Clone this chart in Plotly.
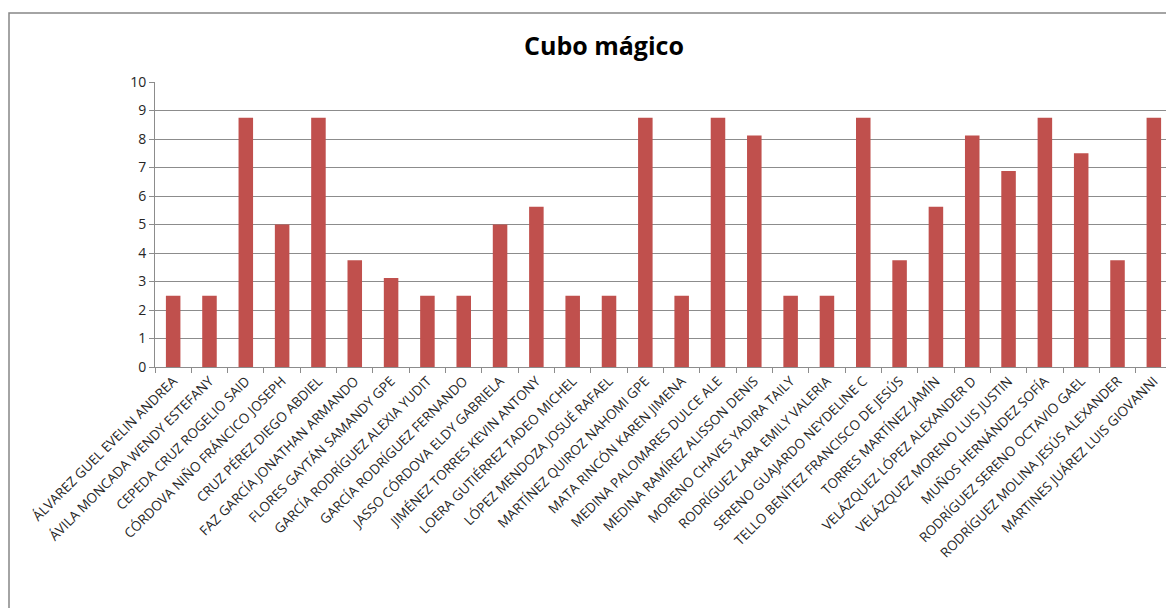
import plotly.graph_objects as go

names = [
    "ÁLVAREZ GUEL EVELIN ANDREA",
    "ÁVILA MONCADA WENDY ESTEFANY",
    "CEPEDA CRUZ ROGELIO SAID",
    "CÓRDOVA NIÑO FRÁNCICO JOSEPH",
    "CRUZ PÉREZ DIEGO ABDIEL",
    "FAZ GARCÍA JONATHAN ARMANDO",
    "FLORES GAYTÁN SAMANDY GPE",
    "GARCÍA RODRÍGUEZ ALEXIA YUDIT",
    "GARCÍA RODRÍGUEZ FERNANDO",
    "JASSO CÓRDOVA ELDY GABRIELA",
    "JIMÉNEZ TORRES KEVIN ANTONY",
    "LOERA GUTIÉRREZ TADEO MICHEL",
    "LÓPEZ MENDOZA JOSUÉ RAFAEL",
    "MARTÍNEZ QUIROZ NAHOMI GPE",
    "MATA RINCÓN KAREN JIMENA",
    "MEDINA PALOMARES DULCE ALE",
    "MEDINA RAMÍREZ ALISSON DENIS",
    "MORENO CHAVES YADIRA TAILY",
    "RODRÍGUEZ LARA EMILY VALERIA",
    "SERENO GUAJARDO NEYDELINE C",
    "TELLO BENÍTEZ FRANCISCO DE JESÚS",
    "TORRES MARTÍNEZ JAMÍN",
    "VELÁZQUEZ LÓPEZ ALEXANDER D",
    "VELÁZQUEZ MORENO LUIS JUSTIN",
    "MUÑOS HERNÁNDEZ SOFÍA",
    "RODRÍGUEZ SERENO OCTAVIO GAEL",
    "RODRÍGUEZ MOLINA JESÚS ALEXANDER",
    "MARTINES JUÁREZ LUIS GIOVANNI",
]
scores = [2.5, 2.5, 8.75, 5, 8.75, 3.75, 3.125, 2.5, 2.5, 5, 5.625, 2.5, 2.5, 8.75,
          2.5, 8.75, 8.125, 2.5, 2.5, 8.75, 3.75, 5.625, 8.125, 6.875, 8.75, 7.5, 3.75, 8.75]
y_ticks = list(range(0, 11))
title_text = "Cubo mágico"

# page body offset (default 8px margin) compensated
OFF = 8
W, H = 1174, 608
left_s, right_s, top_s, bottom_s = 155, 1172, 82, 367   # target screen pixels
L = left_s - OFF
R = W - (right_s - OFF)
T = top_s - OFF
B = H - (bottom_s - OFF)
pw, ph = W - L - R, H - T - B

def px_x(x):
    return (x - OFF - L) / pw

def px_y(y):
    return (H - B - (y - OFF)) / ph

fig = go.Figure(go.Bar(x=names, y=scores, marker=dict(color="#C0504D", line=dict(width=0))))

grid = "#8C8C8C"
fig.update_layout(
    width=W, height=H,
    margin=dict(l=L, r=R, t=T, b=B),
    paper_bgcolor="white", plot_bgcolor="white",
    bargap=0.6,
    showlegend=False,
    font=dict(family="Open Sans", size=13, color="#262626"),
    title=dict(text="<b>" + title_text + "</b>", x=px_x(604), xref="paper", xanchor="center",
               y=1 - (46 - OFF) / H, yanchor="middle", font=dict(family="Open Sans", size=25, color="black")),
    xaxis=dict(tickangle=-45, tickson="boundaries", ticks="outside", ticklen=5, tickcolor=grid,
               showline=True, linecolor=grid, linewidth=1, showgrid=False,
               tickfont=dict(family="Open Sans", size=13.5, color="#262626")),
    yaxis=dict(range=[0, 10], tickvals=y_ticks, ticks="outside", ticklen=5, tickcolor=grid,
               showline=True, linecolor=grid, linewidth=1, showgrid=True, gridcolor=grid,
               gridwidth=1, zeroline=False, tickfont=dict(family="Open Sans", size=14, color="#262626")),
    shapes=[dict(type="rect", xref="paper", yref="paper",
                 x0=px_x(9), x1=px_x(1200), y0=px_y(640), y1=px_y(13),
                 line=dict(color="#868686", width=1.5), fillcolor="rgba(0,0,0,0)", layer="below")],
)

fig.write_html("out.html")
